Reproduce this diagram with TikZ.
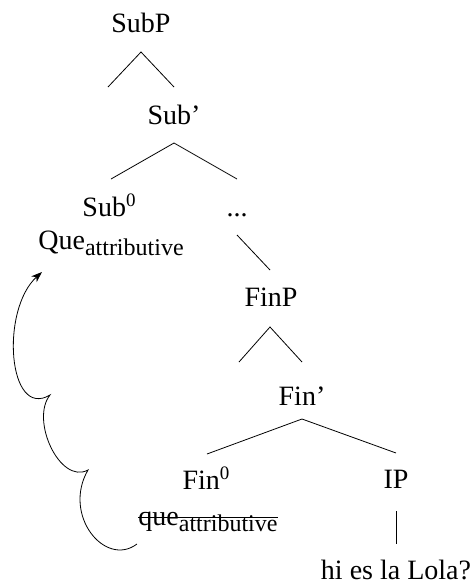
\documentclass[tikz,border=0pt]{standalone}
\usepackage{fontspec}
\setmainfont{Liberation Serif}
\usetikzlibrary{arrows.meta}
\newcommand\supz{\raisebox{10pt}{\fontsize{19}{19}\selectfont 0}}
\newcommand\subattr{\raisebox{-6pt}{\fontsize{24}{24}\selectfont attributive}}
\begin{document}
\begin{tikzpicture}[x=1pt,y=-1pt,
  lab/.style={anchor=base,inner sep=0pt,font=\fontsize{28}{34}\selectfont},
  branch/.style={line width=0.8pt},
  mv/.style={line width=0.8pt,-{Stealth[length=11pt,width=8pt]}}]
\useasboundingbox (0,0) rectangle (471,584);
% nodes
\node[lab] (subp)   at (141,32)  {SubP};
\node[lab] (subbar) at (174,124) {Sub'};
\node[lab] (sub0)   at (109,216) {Sub\supz};
\node[lab] (que)    at (111,249) {Que\subattr};
\node[lab] (dots)   at (237,216) {...};
\node[lab] (finp)   at (271,306) {FinP};
\node[lab] (finbar) at (302,405) {Fin'};
\node[lab] (fin0)   at (206,489) {Fin\supz};
\node[lab] (quetr)  at (208,525) {que\subattr};
\node[lab] (ip)     at (396,488) {IP};
\node[lab] (hi)     at (396,579) {hi es la Lola?};
% branch coordinates
\coordinate (subp-a) at (141,52);
\coordinate (subp-l) at (108,87);
\coordinate (subp-r) at (174,87);
\coordinate (subbar-a) at (174,143);
\coordinate (subbar-l) at (111,179);
\coordinate (subbar-r) at (237,179);
\coordinate (dots-a) at (237,235);
\coordinate (dots-b) at (270,270);
\coordinate (finp-a) at (270,327);
\coordinate (finp-l) at (239,362);
\coordinate (finp-r) at (302,362);
\coordinate (finbar-a) at (302,419);
\coordinate (finbar-l) at (207,454);
\coordinate (finbar-r) at (396,453);
\coordinate (ip-a) at (396,511);
\coordinate (ip-b) at (396,544);
% branches
\draw[branch] (subp-l) -- (subp-a) -- (subp-r);
\draw[branch] (subbar-l) -- (subbar-a) -- (subbar-r);
\draw[branch] (dots-a) -- (dots-b);
\draw[branch] (finp-l) -- (finp-a) -- (finp-r);
\draw[branch] (finbar-l) -- (finbar-a) -- (finbar-r);
\draw[branch] (ip-a) -- (ip-b);
% strike-through
\draw[branch] ([yshift=8pt]quetr.base west) -- ([yshift=8pt]quetr.base east);
% movement arrow
\coordinate (mv-s) at (137,544);
\coordinate (mv-c1) at (88,470);
\coordinate (mv-c2) at (50,395);
\coordinate (mv-e) at (42,272);
\draw[mv] (mv-s) .. controls (105,568) and (62,515) .. (mv-c1)
  .. controls (60,485) and (30,420) .. (mv-c2)
  .. controls (8,420) and (0,310) .. (mv-e);
\end{tikzpicture}
\end{document}
